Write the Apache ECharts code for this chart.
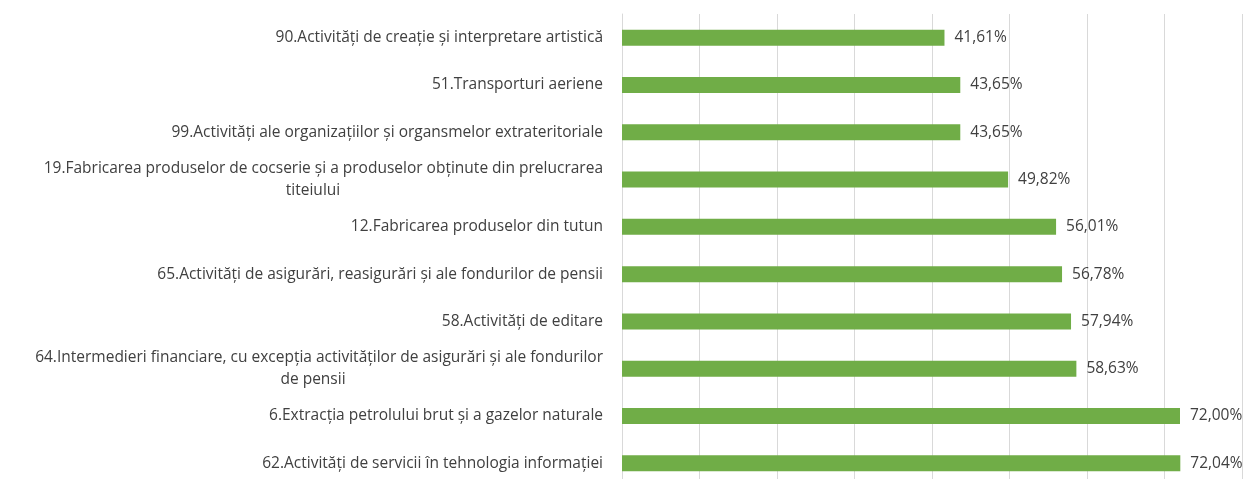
<!DOCTYPE html>
<html>
<head>
<meta charset="utf-8">
<script src="https://cdn.jsdelivr.net/npm/echarts@6/dist/echarts.min.js"></script>
<style>
  html, body { margin: 0; padding: 0; background: #fff; }
  #chart { width: 1249px; height: 479px; }
</style>
</head>
<body>
<div id="chart"></div>
<script>
// categorii (de sus in jos)
var categories = [
  '90.Activități de creație și interpretare artistică',
  '51.Transporturi aeriene',
  '99.Activități ale organizațiilor și organsmelor extrateritoriale',
  '19.Fabricarea produselor de cocserie și a produselor obținute din prelucrarea\ntiteiului',
  '12.Fabricarea produselor din tutun',
  '65.Activități de asigurări, reasigurări și ale fondurilor de pensii',
  '58.Activități de editare',
  '64.Intermedieri financiare, cu excepția activităților de asigurări și ale fondurilor\nde pensii',
  '6.Extracția petrolului brut și a gazelor naturale',
  '62.Activități de servicii în tehnologia informației'
];
// procente
var values = [41.61, 43.65, 43.65, 49.82, 56.01, 56.78, 57.94, 58.63, 72.00, 72.04];
var xTicks = [0, 10, 20, 30, 40, 50, 60, 70, 80];

var chart = echarts.init(document.getElementById('chart'));

var option = {
  animation: false,
  textStyle: { fontFamily: 'Open Sans' },
  grid: { left: 622, right: 7, top: 14, height: 473, outerBoundsMode: 'none' },
  xAxis: {
    type: 'value',
    min: xTicks[0],
    max: xTicks[xTicks.length - 1],
    interval: 10,
    axisLabel: { show: false },
    axisLine: { show: false },
    axisTick: { show: false },
    splitLine: { lineStyle: { color: '#d9d9d9', width: 1 } }
  },
  yAxis: {
    type: 'category',
    inverse: true,
    data: categories,
    axisLine: { show: true, lineStyle: { color: '#d9d9d9' } },
    axisTick: { show: false },
    axisLabel: {
      margin: 19,
      fontSize: 15.5,
      color: '#404040',
      lineHeight: 22,
      formatter: function (v) {
        var parts = v.split('\n');
        if (parts.length === 1) return v;
        return parts[0] + '\n{c|' + parts[1] + '}';
      },
      rich: {
        c: { width: 580, align: 'center', fontSize: 15.5, color: '#404040', lineHeight: 22 }
      }
    }
  },
  series: [{
    type: 'bar',
    data: values,
    barWidth: 16,
    itemStyle: { color: '#70ad47' },
    label: {
      show: true,
      position: 'right',
      distance: 10,
      fontSize: 15.5,
      color: '#404040',
      formatter: function (p) {
        return p.value.toFixed(2).replace('.', ',') + '%';
      }
    }
  }]
};

chart.setOption(option);
</script>
</body>
</html>
